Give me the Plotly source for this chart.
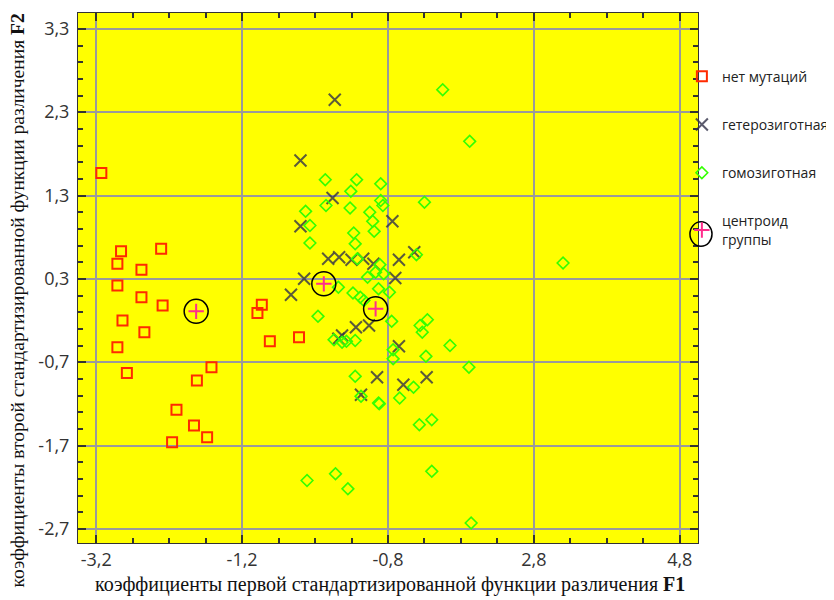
import plotly.graph_objects as go

# ---- data ----
no_mut_x = [-3.13, -2.86, -2.91, -2.31, -2.58, -2.91, -2.58, -2.29, -2.84, -2.54, -2.91,
            -2.78, -1.62, -1.82, -2.10, -1.86, -1.68, -2.16, -0.93, -0.99, -0.82, -0.42]
no_mut_y = [1.57, 0.63, 0.48, 0.66, 0.41, 0.22, 0.08, -0.02, -0.20, -0.34, -0.52,
            -0.83, -0.76, -0.92, -1.27, -1.46, -1.60, -1.66, -0.01, -0.11, -0.45, -0.40]

hetero_x = [0.07, -0.40, 0.04, -0.40, 0.86, -0.02, 0.13, 0.30, 0.46, 0.60, 0.95, 1.16,
            0.90, -0.35, -0.53, 0.36, 0.54, 0.17, 0.12, 0.95, 0.65, 1.01, 1.33, 0.43]
hetero_y = [2.45, 1.72, 1.27, 0.93, 0.99, 0.54, 0.56, 0.53, 0.54, 0.48, 0.53, 0.62,
            0.31, 0.30, 0.11, -0.28, -0.26, -0.38, -0.42, -0.51, -0.88, -0.97, -0.88, -1.09]

homo_x = [1.55, 1.92, -0.06, 0.37, 0.29, 0.70, -0.05, 0.28, 0.70, 0.73, 1.30, -0.33,
          0.55, -0.27, 0.59, 0.61, 0.33, -0.27, 0.35, 0.38, 0.69, 0.63, 0.74, 0.52,
          1.19, 0.12, 0.32, 0.42, 0.47, 0.67, 0.82, -0.16, 0.85, 1.24, 1.34, 1.27,
          0.06, 0.17, 0.23, 0.35, 0.87, 0.87, 1.65, 1.32, 1.91, 0.35, 1.15, 0.96,
          0.43, 0.67, 0.68, 1.23, 1.40, 1.40, -0.31, 0.08, 0.25, 1.94, 3.20]
homo_y = [2.57, 1.95, 1.49, 1.49, 1.35, 1.44, 1.18, 1.15, 1.24, 1.18, 1.22, 1.11,
          1.10, 0.94, 0.99, 0.87, 0.85, 0.73, 0.72, 0.54, 0.47, 0.38, 0.36, 0.32,
          0.59, 0.20, 0.13, 0.08, 0.04, 0.18, 0.14, -0.15, -0.21, -0.26, -0.19, -0.34,
          -0.43, -0.46, -0.45, -0.44, -0.55, -0.66, -0.50, -0.63, -0.76, -0.87, -1.00, -1.13,
          -1.11, -1.19, -1.20, -1.45, -1.39, -2.01, -2.12, -2.04, -2.22, -2.63, 0.49]

centroid_x = [-1.83, -0.08, 0.63]
centroid_y = [-0.09, 0.24, -0.06]

x_tickvals = [-3.2, -1.2, 0.8, 2.8, 4.8]
x_ticktext = ["-3,2", "-1,2", "-0,8", "2,8", "4,8"]
y_tickvals = [3.3, 2.3, 1.3, 0.3, -0.7, -1.7, -2.7]
y_ticktext = ["3,3", "2,3", "1,3", "0,3", "-0,7", "-1,7", "-2,7"]

names = ["нет мутаций", "гетерозиготная", "гомозиготная", "центроид<br>группы"]

fig = go.Figure()
fig.add_trace(go.Scatter(x=no_mut_x, y=no_mut_y, mode="markers", name=names[0], legendgroup="a",
                         marker=dict(symbol="square-open", size=10, color="#ff2a00",
                                     line=dict(width=2, color="#ff2a00"))))
fig.add_trace(go.Scatter(x=hetero_x, y=hetero_y, mode="markers", name=names[1], legendgroup="b",
                         marker=dict(symbol="x-thin-open", size=12, color="rgba(50,50,72,0.8)",
                                     line=dict(width=2, color="rgba(50,50,72,0.8)"))))
fig.add_trace(go.Scatter(x=homo_x, y=homo_y, mode="markers", name=names[2], legendgroup="c",
                         marker=dict(symbol="diamond-open", size=9, color="#33ff00",
                                     line=dict(width=1.6, color="#33ff00"))))
fig.add_trace(go.Scatter(x=centroid_x, y=centroid_y, mode="markers", showlegend=False,
                         hoverinfo="skip",
                         marker=dict(symbol="circle-open", size=24, color="black",
                                     line=dict(width=1.5, color="black"))))
fig.add_trace(go.Scatter(x=centroid_x, y=centroid_y, mode="markers", name=names[3], legendgroup="d",
                         marker=dict(symbol="cross-thin-open", size=11, color="#ff2d8c",
                                     line=dict(width=2, color="#ff2d8c"))))

axis_common = dict(showline=True, linecolor="#333333", linewidth=1, mirror="ticks",
                   ticks="inside", ticklen=8, tickcolor="#333333", tickwidth=1.5,
                   showgrid=True, gridcolor="#9a9a9a", gridwidth=1.5, zeroline=False,
                   automargin=False,
                   tickfont=dict(family="Open Sans", size=18, color="#333333"))

fig.update_xaxes(range=[-3.45, 5.05], tickmode="array", tickvals=x_tickvals, ticktext=x_ticktext,
                 minor=dict(ticks="inside", ticklen=5, tickcolor="#333333", tick0=-3.2, dtick=0.5,
                            showgrid=False),
                 **axis_common)
fig.update_yaxes(range=[-2.87, 3.49], tickmode="array", tickvals=y_tickvals, ticktext=y_ticktext,
                 minor=dict(ticks="inside", ticklen=5, tickcolor="#333333", tick0=0.3, dtick=0.2,
                            showgrid=False),
                 ticklabelstandoff=4,
                 **axis_common)

fig.update_layout(
    width=834, height=600,
    margin=dict(l=70, r=144, t=5, b=65, autoexpand=False),
    plot_bgcolor="#ffff00", paper_bgcolor="white",
    showlegend=True,
    legend=dict(x=0.974, xanchor="left", y=0.91, yanchor="top",
                font=dict(family="Open Sans", size=14, color="#222222"),
                tracegroupgap=27, bgcolor="rgba(0,0,0,0)"),
    shapes=[
        dict(type="circle", xref="paper", yref="paper",
             x0=0.987, x1=1.0226, y0=0.560, y1=0.606,
             line=dict(color="black", width=1.5)),
    ],
    annotations=[
        dict(text="коэффициенты первой стандартизированной функции различения <b>F1</b>",
             xref="paper", yref="paper", x=0.503, y=-0.079, showarrow=False,
             xanchor="center", yanchor="middle",
             font=dict(family="Liberation Serif", size=20, color="#111111")),
        dict(text="коэффициенты второй стандартизированной функции различения <b>F2</b>",
             xref="paper", yref="paper", x=-0.098, y=0.458, showarrow=False, textangle=-90,
             xanchor="center", yanchor="middle",
             font=dict(family="Liberation Serif", size=19.5, color="#111111")),
    ],
)

fig.write_html("out.html")
